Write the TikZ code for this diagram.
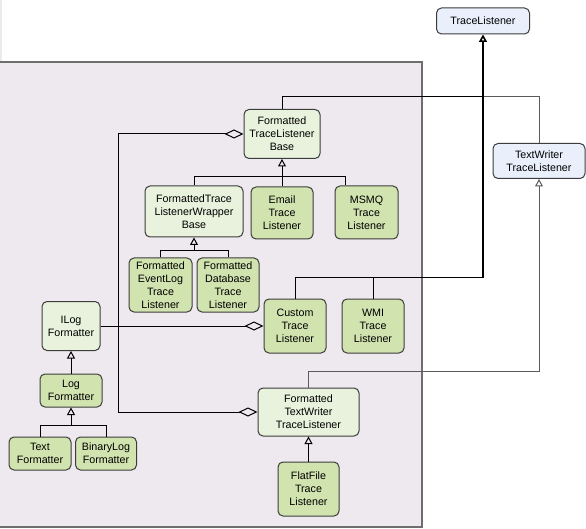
\documentclass[tikz,border=0pt]{standalone}
\usepackage{fontspec}
\setmainfont{Liberation Sans}
\usetikzlibrary{arrows.meta}
\definecolor{panelfill}{HTML}{EEE9EE}
\definecolor{panelline}{HTML}{6E6E6E}
\definecolor{boxline}{HTML}{3C3C3C}
\definecolor{litegreen}{HTML}{E9F2DD}
\definecolor{darkgreen}{HTML}{D1E3AF}
\definecolor{liteblue}{HTML}{E9F0FB}
\definecolor{wireline}{HTML}{5A5A5A}
\begin{document}
\begin{tikzpicture}[x=1pt,y=-1pt]

      \tikzset{cls/.style={draw=boxline, line width=1pt, rounded corners=5pt, align=center, inner sep=0pt, font=\fontsize{10.7}{13}\selectfont},
               base/.style={cls, fill=litegreen},
               impl/.style={cls, fill=darkgreen},
               sys/.style={cls, fill=liteblue},
               wire/.style={line width=1pt, black},
               inh/.style={wire, -{Triangle[open, length=7.5pt, width=8pt]}},
               agg/.style={wire, -{Diamond[open, length=19pt, width=9pt]}}}
      \useasboundingbox (0,0) rectangle (586,529);
%% Panel
      	\fill[panelfill] (0,0) rectangle (2,62);
      	\draw[panelline, line width=2pt, fill=panelfill] (-5,62) rectangle (422,527);
%% Classes
      	\node[sys, minimum width=93pt, minimum height=26pt] (tl) at (483,21) {TraceListener};
      	\node[sys, minimum width=92pt, minimum height=35pt] (twtl) at (539,161) {TextWriter\\TraceListener};
      	\node[base, minimum width=76pt, minimum height=49pt] (ftlb) at (282,134) {Formatted\\TraceListener\\Base};
      	\node[base, minimum width=98pt, minimum height=51pt] (ftlwb) at (194,211.5) {FormattedTrace\\ListenerWrapper\\Base};
      	\node[impl, minimum width=62pt, minimum height=52pt] (email) at (282,213) {Email\\Trace\\Listener};
      	\node[impl, minimum width=63pt, minimum height=53pt] (msmq) at (366.5,212.5) {MSMQ\\Trace\\Listener};
      	\node[impl, minimum width=63pt, minimum height=54pt] (evlog) at (160.5,285) {Formatted\\EventLog\\Trace\\Listener};
      	\node[impl, minimum width=62pt, minimum height=54pt] (dblog) at (228,285) {Formatted\\Database\\Trace\\Listener};
      	\node[impl, minimum width=62pt, minimum height=54pt] (custom) at (295,326) {Custom\\Trace\\Listener};
      	\node[impl, minimum width=62pt, minimum height=54pt] (wmi) at (373,326) {WMI\\Trace\\Listener};
      	\node[base, minimum width=58pt, minimum height=49pt] (ilogfmt) at (71,326) {ILog\\Formatter};
      	\node[impl, minimum width=62pt, minimum height=33pt] (logfmt) at (71,390.5) {Log\\Formatter};
      	\node[impl, minimum width=62pt, minimum height=33pt] (textfmt) at (40,453.5) {Text\\Formatter};
      	\node[impl, minimum width=61pt, minimum height=33pt] (binfmt) at (106,453.5) {BinaryLog\\Formatter};
      	\node[base, minimum width=101pt, minimum height=48pt] (ftwtl) at (308.5,412) {Formatted\\TextWriter\\TraceListener};
      	\node[impl, minimum width=61pt, minimum height=54pt] (flatfile) at (308.5,489) {FlatFile\\Trace\\Listener};
%% Junctions
      	\coordinate (tlbar) at (483,97);
      	\coordinate (tljoin) at (483,278);
      	\coordinate (wrapbar) at (194,251);
      	\coordinate (fmtbar) at (71,426);
      	\coordinate (aggcorner) at (118,134);
%% Inheritance
		\draw[wire] (ftlwb.north) -- ++(0,-9) -| ([xshift=-21.5pt]msmq.north);
		\draw[inh] (email.north) -- (ftlb.south);
		\draw[wire] (evlog.north) -- ++(0,-7) -| (dblog.north);
		\draw[inh] (wrapbar) -- (ftlwb.south);
		\draw[wire] (textfmt.north) -- ++(0,-11) -| (binfmt.north);
		\draw[inh] (fmtbar) -- (logfmt.south);
		\draw[inh] (logfmt.north) -- (ilogfmt.south);
		\draw[wire] (custom.north) |- (tljoin);
		\draw[wire] (wmi.north) -- (wmi.north |- tljoin);
		\draw[wire] (ftlb.north) |- (tlbar);
		\draw[wire, wireline] (twtl.north) |- (tlbar);
		\draw[inh, line width=1.6pt] (tljoin) -- (tl.south);
		\draw[inh, wireline] (ftwtl.north) -- ++(0,-16) -| (twtl.south);
		\draw[inh] (flatfile.north) -- (ftwtl.south);
%% Aggregation
		\draw[agg] (ilogfmt.east) -- (custom.west);
		\draw[wire, {Diamond[open, length=19pt, width=9pt]}-{Diamond[open, length=19pt, width=9pt]}] (ftlb.west) -- (aggcorner) |- (ftwtl.west);

	\end{tikzpicture}
\end{document}
